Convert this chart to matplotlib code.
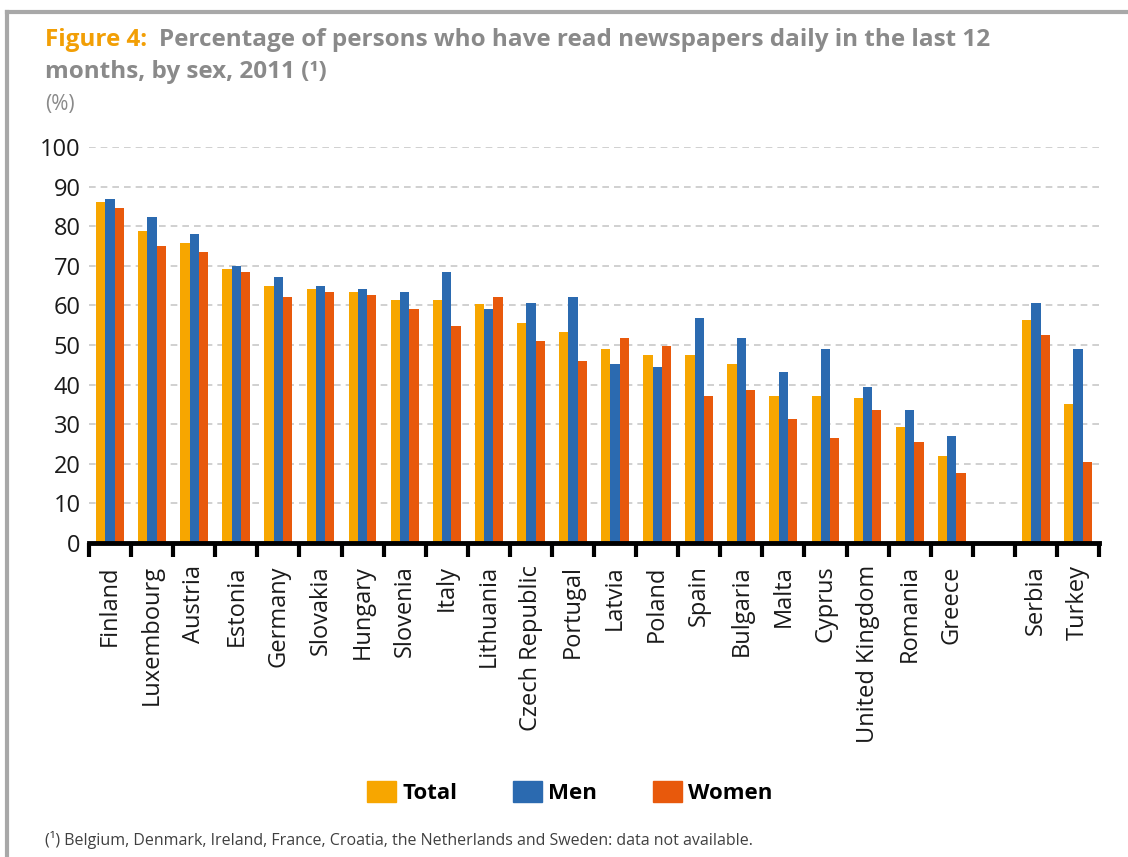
import numpy as np
import matplotlib.pyplot as plt
from matplotlib.patches import Patch

countries = ["Finland", "Luxembourg", "Austria", "Estonia", "Germany", "Slovakia",
             "Hungary", "Slovenia", "Italy", "Lithuania", "Czech Republic", "Portugal",
             "Latvia", "Poland", "Spain", "Bulgaria", "Malta", "Cyprus",
             "United Kingdom", "Romania", "Greece", "Serbia", "Turkey"]
total = [86.0, 78.7, 75.7, 69.2, 64.9, 64.2, 63.5, 61.3, 61.3, 60.4, 55.5, 53.4,
         48.9, 47.4, 47.4, 45.3, 37.2, 37.2, 36.5, 29.2, 22.0, 56.2, 35.1]
men = [86.8, 82.3, 77.9, 70.0, 67.1, 64.9, 64.2, 63.5, 68.5, 59.1, 60.5, 62.0,
       45.3, 44.5, 56.9, 51.7, 43.1, 48.9, 39.4, 33.6, 27.1, 60.5, 48.9]
women = [84.5, 75.1, 73.6, 68.5, 62.0, 63.5, 62.7, 59.1, 54.7, 62.0, 51.1, 45.9,
         51.7, 49.7, 37.2, 38.7, 31.4, 26.4, 33.6, 25.6, 17.6, 52.5, 20.5]
n_eu = 21  # EU countries, then one empty slot, then Serbia and Turkey

c_total = "#F7A600"
c_men = "#2B6AB0"
c_women = "#E8590C"
grey = "#8A8A8A"

plt.rcParams['font.family'] = ['Open Sans', 'DejaVu Sans']

idx = np.arange(len(countries))
pos = np.where(idx < n_eu, idx, idx + 1) + 0.5
n_slots = len(countries) + 1

fig = plt.figure(figsize=(11.28, 8.57), dpi=100)
ax = fig.add_axes([0.0789, 0.3664, 0.8954, 0.4621])

w = 0.22
ax.bar(pos - w, total, w, color=c_total, zorder=3)
ax.bar(pos, men, w, color=c_men, zorder=3)
ax.bar(pos + w, women, w, color=c_women, zorder=3)

ax.set_xlim(0, n_slots)
ax.set_ylim(0, 100)
ax.set_yticks(range(0, 101, 10))
ax.tick_params(axis='y', length=0, labelsize=17, pad=6, labelcolor='#1a1a1a')
ax.yaxis.grid(True, linestyle=(0, (4, 3)), color='#C8C8C8', linewidth=1.2, zorder=0)

ax.set_xticks(np.arange(0, n_slots + 1))
ax.set_xticklabels([])
ax.tick_params(axis='x', which='major', direction='out', length=10, width=3, color='black')
ax.set_xticks(pos, minor=True)
ax.set_xticklabels(countries, minor=True, rotation=90, fontsize=17, color='#1a1a1a')
ax.tick_params(axis='x', which='minor', length=0, pad=16)

for s in ['top', 'right', 'left']:
    ax.spines[s].set_visible(False)
ax.spines['bottom'].set_linewidth(3.5)
ax.spines['bottom'].set_zorder(5)

# titles
fig.text(0.040, 0.953, "Figure 4:", fontsize=17.5, fontweight='bold', color='#F29F05', va='center')
fig.text(0.141, 0.953, "Percentage of persons who have read newspapers daily in the last 12",
         fontsize=17.5, fontweight='bold', color=grey, va='center')
fig.text(0.040, 0.916, "months, by sex, 2011 (\u00b9)", fontsize=17.5, fontweight='bold', color=grey, va='center')
fig.text(0.040, 0.878, "(%)", fontsize=15, color=grey, va='center')

handles = [Patch(color=c_total, label='Total'), Patch(color=c_men, label='Men'),
           Patch(color=c_women, label='Women')]
fig.legend(handles=handles, loc='center', bbox_to_anchor=(0.505, 0.075), ncol=3, frameon=False,
           prop={'size': 16, 'weight': 'bold'}, handlelength=1.3, handleheight=1.1,
           handletextpad=0.3, columnspacing=2.5)

fig.text(0.040, 0.020, "(\u00b9) Belgium, Denmark, Ireland, France, Croatia, the Netherlands and Sweden: data not available.",
         fontsize=11.5, color='#404040', va='center')

# frame lines at top and left
fig.add_artist(plt.Line2D([0.0062, 1.0], [0.986, 0.986], color='#A8A8A8', linewidth=3))
fig.add_artist(plt.Line2D([0.0062, 0.0062], [0.0, 0.986], color='#A8A8A8', linewidth=3))

fig.savefig("out.png", dpi=100)
